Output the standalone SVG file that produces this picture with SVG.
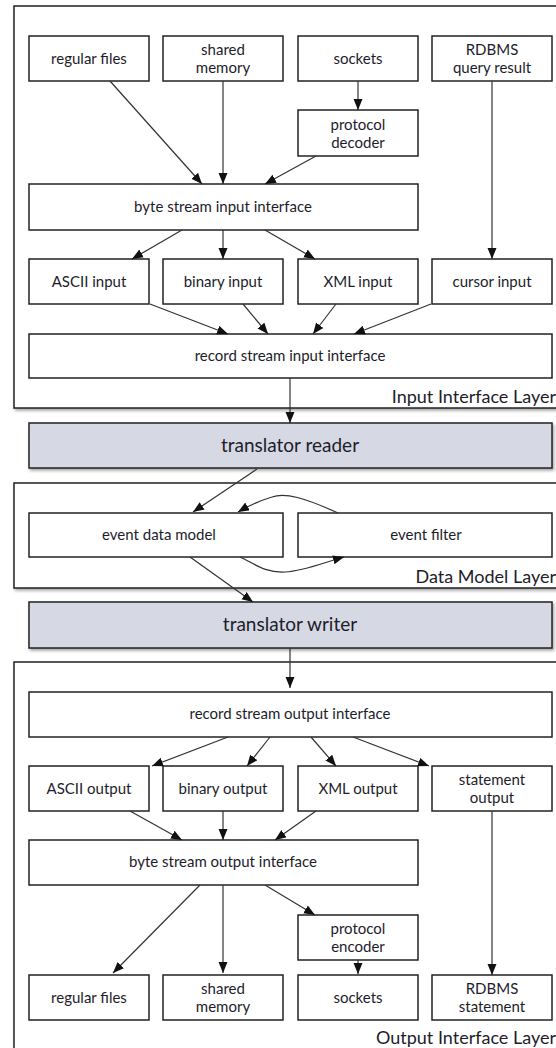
<svg xmlns="http://www.w3.org/2000/svg" width="556" height="1048" viewBox="0 0 556 1048">
<style>
  .frame { fill: #ffffff; stroke: #222; stroke-width: 1.5; }
  .box { fill: #ffffff; stroke: #222; stroke-width: 1.5; }
  .tr { fill: #d6d9e4; stroke: #222; stroke-width: 1.5; }
  .t { font-family: Lato, "Open Sans", "Liberation Sans", sans-serif; font-size: 15px; fill: #1d1d2b; text-anchor: middle; }
  .ts { font-family: Lato, "Open Sans", "Liberation Sans", sans-serif; font-size: 15px; fill: #1d1d2b; text-anchor: middle; }
  .tl { font-family: Lato, "Open Sans", "Liberation Sans", sans-serif; font-size: 19px; fill: #1d1d2b; text-anchor: middle; }
  .layer { font-family: Lato, "Open Sans", "Liberation Sans", sans-serif; font-size: 18px; fill: #1d1d2b; text-anchor: end; }
  .c { fill: none; stroke: #333; stroke-width: 1.2; marker-end: url(#ah); }
</style>
<defs>
  <marker id="ah" markerUnits="userSpaceOnUse" markerWidth="12" markerHeight="10" refX="11" refY="4.5" orient="auto">
    <path d="M0,0 L11,4.5 L0,9 z" fill="#111"/>
  </marker>
  <filter id="sh" x="-5%" y="-5%" width="115%" height="130%">
    <feDropShadow dx="1.5" dy="2" stdDeviation="1.5" flood-color="#000" flood-opacity="0.35"/>
  </filter>
</defs>

<g id="input-layer">
  <rect class="frame" x="14" y="6" width="560" height="402" filter="url(#sh)"/>
  <text class="layer" x="556" y="403">Input Interface Layer</text>
</g>
<g id="data-model-layer">
  <rect class="frame" x="14" y="483" width="560" height="105" filter="url(#sh)"/>
  <text class="layer" x="556" y="583">Data Model Layer</text>
</g>
<g id="output-layer">
  <rect class="frame" x="14" y="662" width="560" height="400" filter="url(#sh)"/>
  <text class="layer" x="556" y="1044">Output Interface Layer</text>
</g>

<g id="in-regular-files"><rect class="box" x="29" y="36" width="120" height="45"/><text class="t" x="89" y="64">regular files</text></g>
<g id="in-shared-memory"><rect class="box" x="163" y="36" width="120" height="45"/><text class="t" x="223" y="55">shared</text><text class="t" x="223" y="73">memory</text></g>
<g id="in-sockets"><rect class="box" x="298" y="36" width="120" height="45"/><text class="t" x="358" y="64">sockets</text></g>
<g id="in-rdbms"><rect class="box" x="432" y="36" width="120" height="45"/><text class="t" x="492" y="55">RDBMS</text><text class="t" x="492" y="73">query result</text></g>
<g id="protocol-decoder"><rect class="box" x="298" y="110" width="120" height="46"/><text class="t" x="358" y="130">protocol</text><text class="t" x="358" y="148">decoder</text></g>
<g id="byte-stream-input"><rect class="box" x="29" y="184" width="389" height="46"/><text class="t" x="223" y="212">byte stream input interface</text></g>
<g id="ascii-input"><rect class="box" x="29" y="259" width="120" height="45"/><text class="t" x="89" y="287">ASCII input</text></g>
<g id="binary-input"><rect class="box" x="163" y="259" width="120" height="45"/><text class="t" x="223" y="287">binary input</text></g>
<g id="xml-input"><rect class="box" x="298" y="259" width="120" height="45"/><text class="t" x="358" y="287">XML input</text></g>
<g id="cursor-input"><rect class="box" x="432" y="259" width="120" height="45"/><text class="t" x="492" y="287">cursor input</text></g>
<g id="record-stream-input"><rect class="box" x="29" y="334" width="523" height="44"/><text class="t" x="290" y="361">record stream input interface</text></g>

<g id="translator-reader"><rect class="tr" x="29" y="423" width="523" height="45" filter="url(#sh)"/><text class="tl" x="290" y="452">translator reader</text></g>
<g id="event-data-model"><rect class="box" x="29" y="513" width="254" height="44"/><text class="ts" x="159" y="540">event data model</text></g>
<g id="event-filter"><rect class="box" x="298" y="513" width="254" height="44"/><text class="ts" x="426" y="540">event filter</text></g>
<g id="translator-writer"><rect class="tr" x="29" y="602" width="523" height="46" filter="url(#sh)"/><text class="tl" x="290" y="631">translator writer</text></g>

<g id="record-stream-output"><rect class="box" x="29" y="692" width="523" height="45"/><text class="t" x="290" y="719">record stream output interface</text></g>
<g id="ascii-output"><rect class="box" x="29" y="766" width="120" height="45"/><text class="t" x="89" y="794">ASCII output</text></g>
<g id="binary-output"><rect class="box" x="163" y="766" width="120" height="45"/><text class="t" x="223" y="794">binary output</text></g>
<g id="xml-output"><rect class="box" x="298" y="766" width="120" height="45"/><text class="t" x="358" y="794">XML output</text></g>
<g id="statement-output"><rect class="box" x="432" y="766" width="120" height="45"/><text class="t" x="492" y="785">statement</text><text class="t" x="492" y="803">output</text></g>
<g id="byte-stream-output"><rect class="box" x="29" y="840" width="389" height="45"/><text class="t" x="223" y="867">byte stream output interface</text></g>
<g id="protocol-encoder"><rect class="box" x="298" y="915" width="120" height="45"/><text class="t" x="358" y="934">protocol</text><text class="t" x="358" y="952">encoder</text></g>
<g id="out-regular-files"><rect class="box" x="29" y="975" width="120" height="45"/><text class="t" x="89" y="1003">regular files</text></g>
<g id="out-shared-memory"><rect class="box" x="163" y="975" width="120" height="45"/><text class="t" x="223" y="994">shared</text><text class="t" x="223" y="1012">memory</text></g>
<g id="out-sockets"><rect class="box" x="298" y="975" width="120" height="45"/><text class="t" x="358" y="1003">sockets</text></g>
<g id="out-rdbms"><rect class="box" x="432" y="975" width="120" height="45"/><text class="t" x="492" y="994">RDBMS</text><text class="t" x="492" y="1012">statement</text></g>

<g id="connectors">
  <path class="c" d="M110,81 L202,184"/>
  <path class="c" d="M223,81 L223,184"/>
  <path class="c" d="M316,156 L265,184"/>
  <path class="c" d="M358,81 L358,110"/>
  <path class="c" d="M492,81 L492,259"/>
  <path class="c" d="M182,230 L132,259"/>
  <path class="c" d="M223,230 L223,259"/>
  <path class="c" d="M265,230 L315,259"/>
  <path class="c" d="M150,304 L228,334"/>
  <path class="c" d="M243,304 L268,334"/>
  <path class="c" d="M336,304 L313,334"/>
  <path class="c" d="M431,304 L354,334"/>
  <path class="c" d="M290,378 L290,423"/>
  <path class="c" d="M257,469 L193,512"/>
  <path class="c" d="M338,513 C305,498 285,492 272,497 C262,500 250,505 238,512"/>
  <path class="c" d="M240,557 C255,564 265,573 285,572 C305,571 325,562 344,557"/>
  <path class="c" d="M190,557 L253,602"/>
  <path class="c" d="M290,648 L290,688"/>
  <path class="c" d="M228,737 L152,766"/>
  <path class="c" d="M270,737 L247,766"/>
  <path class="c" d="M311,737 L336,766"/>
  <path class="c" d="M353,737 L429,766"/>
  <path class="c" d="M130,811 L182,840"/>
  <path class="c" d="M223,811 L223,840"/>
  <path class="c" d="M316,811 L275,840"/>
  <path class="c" d="M492,811 L492,975"/>
  <path class="c" d="M200,885 L113,973"/>
  <path class="c" d="M223,885 L223,973"/>
  <path class="c" d="M265,885 L315,915"/>
  <path class="c" d="M358,960 L358,974"/>
</g>
</svg>
